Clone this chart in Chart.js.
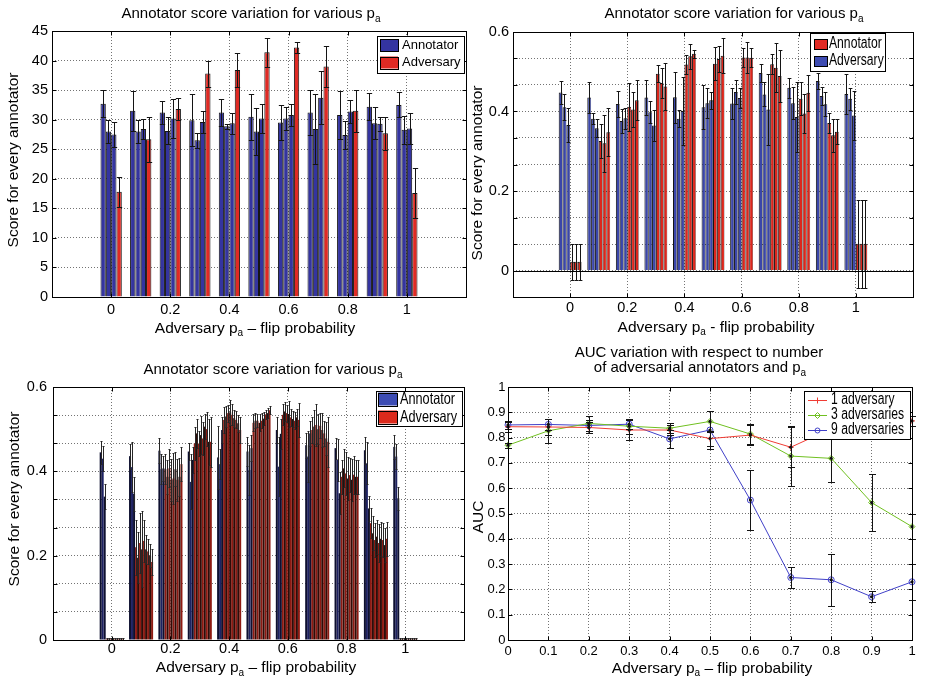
<!DOCTYPE html>
<html>
<head>
<meta charset="utf-8">
<script src="https://cdn.jsdelivr.net/npm/chart.js@4.4.1/dist/chart.umd.min.js"></script>
<style>
  body { margin: 0; background: #fff; width: 927px; height: 683px; position: relative; overflow: hidden; }
  canvas { position: absolute; }
</style>
</head>
<body>
<canvas id="c1" width="470" height="340" style="left:0;top:0"></canvas>
<canvas id="c2" width="464" height="340" style="left:463px;top:0"></canvas>
<canvas id="c3" width="470" height="343" style="left:0;top:340px"></canvas>
<canvas id="c4" width="464" height="343" style="left:463px;top:340px"></canvas>
<script>
// adversary flip probability p_a, one group of bars per value
const groups = [0, 0.1, 0.2, 0.3, 0.4, 0.5, 0.6, 0.7, 0.8, 0.9, 1];

// top left: per group [annotator 1, annotator 2, annotator 3, adversary]
const score1 = [
  [32.7, 28.0, 27.5, 17.8], [31.5, 28.0, 28.4, 26.7], [31.2, 28.1, 30.2, 31.8],
  [29.9, 26.5, 29.6, 37.8], [31.2, 28.9, 29.4, 38.4], [30.5, 28.0, 30.2, 41.4],
  [29.5, 30.2, 30.8, 42.2], [31.2, 28.4, 33.7, 39.0], [30.8, 27.4, 31.4, 31.5],
  [32.2, 29.4, 29.3, 27.7], [32.5, 28.3, 28.5, 17.6]
];
const score1Err = [
  [2.3, 2.0, 2.1, 2.5], [3.4, 2.0, 1.7, 3.8], [2.0, 2.3, 3.3, 1.8],
  [4.4, 1.3, 1.8, 2.2], [2.3, 0.4, 1.8, 2.8], [3.9, 3.9, 2.5, 2.5],
  [2.9, 2.0, 1.9, 1.0], [3.8, 5.9, 4.5, 3.5], [4.0, 2.3, 2.0, 3.6],
  [2.3, 2.7, 1.2, 2.8], [2.1, 2.4, 2.6, 4.2]
];

// top right: per group [3 blue bars, 3 red bars]
const score2 = [
  [0.448, 0.411, 0.366, 0.022, 0.022, 0.022], [0.435, 0.382, 0.358, 0.326, 0.320, 0.348],
  [0.419, 0.376, 0.383, 0.412, 0.405, 0.428], [0.435, 0.398, 0.365, 0.495, 0.472, 0.463],
  [0.436, 0.382, 0.401, 0.518, 0.539, 0.545], [0.411, 0.421, 0.428, 0.520, 0.532, 0.540],
  [0.420, 0.449, 0.434, 0.536, 0.536, 0.535], [0.497, 0.443, 0.405, 0.519, 0.510, 0.489],
  [0.460, 0.421, 0.386, 0.432, 0.395, 0.447], [0.477, 0.439, 0.418, 0.371, 0.340, 0.349],
  [0.444, 0.432, 0.390, 0.067, 0.067, 0.067]
];
const score2Err = [
  [0.028, 0.033, 0.043, 0.045, 0.045, 0.045], [0.040, 0.013, 0.022, 0.043, 0.072, 0.060],
  [0.033, 0.030, 0.027, 0.060, 0.045, 0.050], [0.045, 0.028, 0.040, 0.022, 0.037, 0.058],
  [0.064, 0.021, 0.086, 0.024, 0.032, 0.010], [0.055, 0.038, 0.022, 0.042, 0.032, 0.044],
  [0.040, 0.030, 0.025, 0.024, 0.038, 0.024], [0.022, 0.030, 0.090, 0.025, 0.062, 0.065],
  [0.025, 0.040, 0.087, 0.042, 0.050, 0.045], [0.020, 0.022, 0.030, 0.025, 0.041, 0.032],
  [0.050, 0.028, 0.062, 0.110, 0.110, 0.110]
];

// bottom left: per group [3 annotators, 9 adversaries]
const score3 = [
  [0.445, 0.430, 0.340, 0.003, 0.003, 0.003, 0.003, 0.003, 0.003, 0.003, 0.003, 0.003],
  [0.436, 0.410, 0.347, 0.220, 0.195, 0.230, 0.215, 0.235, 0.215, 0.210, 0.200, 0.185],
  [0.449, 0.405, 0.407, 0.405, 0.387, 0.407, 0.380, 0.383, 0.405, 0.380, 0.387, 0.417],
  [0.447, 0.375, 0.427, 0.466, 0.490, 0.466, 0.486, 0.478, 0.506, 0.500, 0.470, 0.470],
  [0.433, 0.417, 0.498, 0.522, 0.530, 0.538, 0.540, 0.534, 0.526, 0.522, 0.514, 0.498],
  [0.447, 0.403, 0.455, 0.515, 0.520, 0.520, 0.515, 0.520, 0.525, 0.535, 0.538, 0.545],
  [0.498, 0.411, 0.489, 0.534, 0.542, 0.538, 0.536, 0.528, 0.524, 0.520, 0.528, 0.522],
  [0.462, 0.435, 0.490, 0.498, 0.506, 0.510, 0.500, 0.508, 0.498, 0.490, 0.478, 0.470],
  [0.455, 0.427, 0.348, 0.387, 0.407, 0.395, 0.383, 0.391, 0.380, 0.392, 0.387, 0.387],
  [0.450, 0.419, 0.312, 0.277, 0.253, 0.237, 0.245, 0.230, 0.240, 0.237, 0.225, 0.240],
  [0.458, 0.435, 0.336, 0.003, 0.003, 0.003, 0.003, 0.003, 0.003, 0.003, 0.003, 0.003]
];
const score3Err = [
  [0.028, 0.030, 0.030, 0.002, 0.002, 0.002, 0.002, 0.002, 0.002, 0.002, 0.002, 0.002],
  [0.030, 0.060, 0.040, 0.065, 0.060, 0.070, 0.090, 0.050, 0.035, 0.030, 0.028, 0.030],
  [0.030, 0.035, 0.030, 0.035, 0.040, 0.045, 0.050, 0.060, 0.040, 0.050, 0.045, 0.040],
  [0.020, 0.065, 0.030, 0.040, 0.035, 0.030, 0.045, 0.040, 0.030, 0.040, 0.055, 0.060],
  [0.075, 0.035, 0.030, 0.030, 0.025, 0.020, 0.030, 0.025, 0.020, 0.020, 0.020, 0.030],
  [0.035, 0.060, 0.030, 0.020, 0.018, 0.015, 0.020, 0.018, 0.015, 0.010, 0.012, 0.010],
  [0.030, 0.070, 0.035, 0.025, 0.022, 0.020, 0.030, 0.020, 0.018, 0.020, 0.020, 0.040],
  [0.030, 0.060, 0.030, 0.030, 0.040, 0.050, 0.035, 0.030, 0.040, 0.030, 0.040, 0.060],
  [0.025, 0.050, 0.050, 0.040, 0.045, 0.050, 0.050, 0.040, 0.050, 0.045, 0.040, 0.040],
  [0.032, 0.050, 0.030, 0.035, 0.040, 0.040, 0.040, 0.045, 0.040, 0.040, 0.040, 0.040],
  [0.028, 0.030, 0.028, 0.002, 0.002, 0.002, 0.002, 0.002, 0.002, 0.002, 0.002, 0.002]
];

// bottom right: AUC against p_a
const auc1 = [0.843, 0.842, 0.840, 0.830, 0.830, 0.796, 0.810, 0.762, 0.835, 0.860, 0.866];
const auc1Err = [0.020, 0.030, 0.020, 0.040, 0.020, 0.030, 0.040, 0.080, 0.030, 0.030, 0.020];
const auc3 = [0.770, 0.827, 0.856, 0.845, 0.837, 0.864, 0.814, 0.727, 0.718, 0.543, 0.448];
const auc3Err = [0.010, 0.047, 0.030, 0.030, 0.020, 0.040, 0.040, 0.120, 0.095, 0.113, 0.050];
const auc9 = [0.850, 0.852, 0.848, 0.853, 0.795, 0.830, 0.553, 0.247, 0.238, 0.171, 0.230];
const auc9Err = [0.015, 0.020, 0.020, 0.020, 0.035, 0.075, 0.118, 0.040, 0.102, 0.022, 0.070];

const FONT = "'Liberation Sans', Arial, Helvetica, sans-serif";
const gridColor = 'rgba(0,0,0,0.55)';
const blue = '#3434a0', red = '#e02a24';

const TITLE = [['Annotator score variation for various p', 0], ['a', 1]];
const XLAB = [['Adversary p', 0], ['a', 1], [' \u2013 flip probability', 0]];
const XLAB2 = [['Adversary p', 0], ['a', 1], [' - flip probability', 0]];
const YLAB = [['Score for every annotator', 0]];

// decorations per canvas: text, legend box (positions in canvas pixels)
const deco = {
  c1: {
    texts: [{ segs: TITLE, x: 251, y: 14, size: 15 }, { segs: XLAB, x: 255, y: 328.5 }, { segs: YLAB, x: 14, y: 160, rot: true }],
    legend: { x: 377, y: 36, w: 87, h: 37, px: 380, pw: 18, ph: 12, tx: 402, size: 13, sx: 1,
      rows: [{ text: 'Annotator', y: 45, color: blue }, { text: 'Adversary', y: 62.5, color: red }] }
  },
  c2: {
    baseline: true,
    texts: [{ segs: TITLE, x: 271, y: 14, size: 15 }, { segs: XLAB2, x: 253, y: 327.5 }, { segs: YLAB, x: 15, y: 173, rot: true }],
    legend: { x: 347, y: 33, w: 75, h: 38, px: 351, pw: 13, ph: 10, tx: 366, size: 16, sx: 0.76,
      rows: [{ text: 'Annotator', y: 44, color: red }, { text: 'Adversary', y: 61, color: '#3e4cb2' }] }
  },
  c3: {
    texts: [{ segs: TITLE, x: 273, y: 30, size: 15 }, { segs: XLAB, x: 256, y: 328 }, { segs: YLAB, x: 15, y: 159, rot: true }],
    legend: { x: 376, y: 51, w: 86, h: 35, px: 378, pw: 19, ph: 13, tx: 400, size: 16.5, sx: 0.77,
      rows: [{ text: 'Annotator', y: 59, color: '#3c4cb4' }, { text: 'Adversary', y: 77, color: '#dc2a1c' }] }
  },
  c4: {
    texts: [{ segs: [['AUC variation with respect to number', 0]], x: 236, y: 12.8, size: 15 },
      { segs: [['of adversarial annotators and p', 0], ['a', 1]], x: 237, y: 28.2, size: 15 },
      { segs: XLAB, x: 249, y: 328.5 }, { segs: [['AUC', 0]], x: 16, y: 177, rot: true }],
    legend: { x: 341, y: 51, w: 106, h: 48, lx1: 345, lx2: 364, tx: 368, size: 16, sx: 0.76,
      rows: [{ text: '1 adversary', y: 60, color: '#f03c34', marker: 'cross' },
        { text: '3 adversaries', y: 75, color: '#70c020', marker: 'diamond' },
        { text: '9 adversaries', y: 90, color: '#4040c8', marker: 'circle' }] }
  }
};

function fmt(v) { return String(Math.round(v * 10) / 10); }
function xLabel(v) { return v > -0.01 && v < 1.01 ? fmt(v) : ''; }
function yFifth(v) { const r = v * 5; return v > -1e-9 && Math.abs(r - Math.round(r)) < 1e-6 ? fmt(v) : ''; }

function marker(ctx, kind, x, y, color) {
  ctx.save();
  ctx.strokeStyle = color; ctx.lineWidth = 1;
  ctx.beginPath();
  if (kind === 'cross') { ctx.moveTo(x - 3, y); ctx.lineTo(x + 3, y); ctx.moveTo(x, y - 3); ctx.lineTo(x, y + 3); }
  else if (kind === 'diamond') { ctx.moveTo(x, y - 3); ctx.lineTo(x + 3, y); ctx.lineTo(x, y + 3); ctx.lineTo(x - 3, y); ctx.closePath(); }
  else { ctx.arc(x, y, 2.5, 0, Math.PI * 2); }
  ctx.stroke();
  ctx.restore();
}

function drawText(ctx, t) {
  const size = t.size || 15.5, sub = 10;
  ctx.save();
  ctx.fillStyle = '#000';
  ctx.textBaseline = 'middle';
  ctx.textAlign = 'left';
  let w = 0;
  t.segs.forEach(s => { ctx.font = (s[1] ? sub : size) + 'px ' + FONT; w += ctx.measureText(s[0]).width; });
  ctx.translate(t.x, t.y);
  if (t.rot) ctx.rotate(-Math.PI / 2);
  let x = -w / 2;
  t.segs.forEach(s => {
    ctx.font = (s[1] ? sub : size) + 'px ' + FONT;
    ctx.fillText(s[0], x, s[1] ? 5 : 0);
    x += ctx.measureText(s[0]).width;
  });
  ctx.restore();
}

const decoPlugin = {
  id: 'deco',
  afterDatasetsDraw(chart) {
    const ctx = chart.ctx;
    chart.data.datasets.forEach((ds, i) => {
      if (!ds.errors) return;
      const meta = chart.getDatasetMeta(i);
      const ys = chart.scales[meta.yAxisID];
      ctx.save();
      ctx.strokeStyle = ds.errColor || '#141414';
      ctx.lineWidth = 1;
      meta.data.forEach((el, k) => {
        const v = ds.data[k].y, e = ds.errors[k];
        const x = Math.round(el.x) + 0.5;
        const half = ds.capHalf != null ? ds.capHalf : el.width / 2;
        const t = Math.round(ys.getPixelForValue(v + e)) + 0.5;
        const b = Math.round(ys.getPixelForValue(v - e)) + 0.5;
        ctx.beginPath();
        ctx.moveTo(x, t); ctx.lineTo(x, b);
        ctx.moveTo(x - half, t); ctx.lineTo(x + half, t);
        ctx.moveTo(x - half, b); ctx.lineTo(x + half, b);
        ctx.stroke();
        if (ds.dot) { ctx.fillStyle = '#111'; ctx.beginPath(); ctx.arc(el.x, el.y, 1.6, 0, Math.PI * 2); ctx.fill(); }
      });
      ctx.restore();
    });
  },
  afterDraw(chart) {
    const d = deco[chart.canvas.id];
    const ctx = chart.ctx, a = chart.chartArea;
    const L = Math.round(a.left) + 0.5, R = Math.round(a.right) + 0.5;
    const T = Math.round(a.top) + 0.5, B = Math.round(a.bottom) + 0.5;
    ctx.save();
    ctx.strokeStyle = '#000';
    ctx.lineWidth = 1;
    if (d.baseline) {
      const y0 = Math.round(chart.scales.y.getPixelForValue(0)) + 0.5;
      ctx.beginPath(); ctx.moveTo(L, y0); ctx.lineTo(R, y0); ctx.stroke();
    }
    ctx.strokeRect(L, T, R - L, B - T);
    // inward tick marks on all four sides
    ctx.beginPath();
    chart.scales.x.ticks.forEach((tk, i) => {
      const p = Math.round(chart.scales.x.getPixelForTick(i)) + 0.5;
      if (p <= L + 1 || p >= R - 1) return;
      ctx.moveTo(p, B); ctx.lineTo(p, B - 4);
      ctx.moveTo(p, T); ctx.lineTo(p, T + 4);
    });
    chart.scales.y.ticks.forEach((tk, i) => {
      const p = Math.round(chart.scales.y.getPixelForTick(i)) + 0.5;
      if (p <= T + 1 || p >= B - 1) return;
      ctx.moveTo(L, p); ctx.lineTo(L + 4, p);
      ctx.moveTo(R, p); ctx.lineTo(R - 4, p);
    });
    ctx.stroke();
    // legend box
    const g = d.legend;
    ctx.fillStyle = '#fff';
    ctx.fillRect(g.x, g.y, g.w, g.h);
    ctx.strokeRect(g.x + 0.5, g.y + 0.5, g.w, g.h);
    ctx.font = g.size + 'px ' + FONT;
    ctx.textBaseline = 'middle';
    g.rows.forEach(r => {
      if (r.marker) {
        ctx.strokeStyle = r.color;
        ctx.beginPath(); ctx.moveTo(g.lx1, Math.round(r.y) + 0.5); ctx.lineTo(g.lx2, Math.round(r.y) + 0.5); ctx.stroke();
        marker(ctx, r.marker, (g.lx1 + g.lx2) / 2, Math.round(r.y) + 0.5, r.color);
      } else {
        ctx.fillStyle = r.color;
        ctx.fillRect(g.px, r.y - g.ph / 2, g.pw, g.ph);
        ctx.strokeStyle = '#000';
        ctx.strokeRect(g.px + 0.5, Math.round(r.y - g.ph / 2) + 0.5, g.pw, g.ph);
      }
      ctx.save();
      ctx.translate(g.tx, r.y);
      ctx.scale(g.sx, 1);
      ctx.fillStyle = '#000';
      ctx.fillText(r.text, 0, 0);
      ctx.restore();
    });
    ctx.restore();
    d.texts.forEach(t => drawText(ctx, t));
  }
};
Chart.register(decoPlugin);

function groupX(tickSize, pad) {
  return {
    type: 'linear', min: -0.2, max: 1.2, offset: false,
    afterFit: s => { s.height = 43; },
    ticks: { stepSize: 0.2, callback: xLabel, autoSkip: false, maxRotation: 0, padding: pad, color: '#000', font: { family: FONT, size: tickSize } },
    grid: { offset: false, drawTicks: false,
      color: c => { const v = c.tick ? c.tick.value : 0; return v > -0.01 && v < 1.01 ? gridColor : 'rgba(0,0,0,0)'; } },
    border: { display: false, dash: [1, 2] }
  };
}
function valueY(min, max, step, cb, width, tickSize, pad) {
  return {
    type: 'linear', min: min, max: max,
    afterFit: s => { s.width = width; },
    ticks: { stepSize: step, callback: cb, autoSkip: false, padding: pad, color: '#000', font: { family: FONT, size: tickSize } },
    grid: { drawTicks: false, color: gridColor },
    border: { display: false, dash: [1, 2] }
  };
}
function baseOpts(padding, catPct, scales) {
  return {
    responsive: false, animation: false, devicePixelRatio: 1,
    layout: { padding: padding },
    plugins: { legend: { display: false }, title: { display: false }, tooltip: { enabled: false } },
    datasets: { bar: { categoryPercentage: catPct, barPercentage: 1 } },
    scales: scales
  };
}
function barSets(rows, errs, colors, border, edge, errColor) {
  return rows[0].map((_, i) => ({
    label: 'bar ' + (i + 1),
    data: groups.map((g, k) => ({ x: g, y: rows[k][i] })),
    errors: errs.map(r => r[i]),
    errColor: errColor,
    backgroundColor: colors[i],
    borderColor: edge,
    borderWidth: border
  }));
}

new Chart(document.getElementById('c1'), {
  type: 'bar',
  data: { datasets: barSets(score1, score1Err, [blue, blue, blue, red], 1, '#151515', '#141414') },
  options: baseOpts({ top: 31, right: 4 }, 0.72, {
    x: groupX(14.5, 4),
    y: valueY(0, 45, 5, v => String(v), 52, 14.5, 4)
  })
});

const b2 = '#3a46aa', r2 = '#dc261c';
new Chart(document.getElementById('c2'), {
  type: 'bar',
  data: { datasets: barSets(score2, score2Err, [b2, b2, b2, r2, r2, r2], { top: 1, left: 1, right: 0.5 }, '#151515', '#141414') },
  options: baseOpts({ top: 32, right: 14 }, 0.8, {
    x: groupX(14.5, 2),
    y: valueY(-1 / 15, 0.6, 1 / 15, yFifth, 50, 14.5, 4)
  })
});

// thin bars: alternate a light and a dark shade to mimic the dense edge striping
const b3 = '#1e2262', b3d = '#0e1030', r3 = '#8e1a12', r3d = '#2e0c08';
new Chart(document.getElementById('c3'), {
  type: 'bar',
  data: { datasets: barSets(score3, score3Err, [b3d, b3, b3d, r3, r3d, r3, r3d, r3, r3d, r3, r3d, r3], 0, '#000', '#262626') },
  options: baseOpts({ top: 47, right: 6 }, 0.82, {
    x: groupX(14.5, 0),
    y: valueY(0, 0.6, 0.2 / 3, yFifth, 53, 14.5, 6)
  })
});

function aucSet(label, vals, errs, color, style) {
  return {
    label: label,
    data: groups.map((g, k) => ({ x: g, y: vals[k] })),
    errors: errs, capHalf: 3.5, dot: true,
    borderColor: color, backgroundColor: 'rgba(0,0,0,0)', borderWidth: 1,
    pointStyle: style, pointRadius: 3, pointBorderWidth: 1, pointBorderColor: color,
    tension: 0, clip: false
  };
}
new Chart(document.getElementById('c4'), {
  type: 'line',
  data: { datasets: [
    aucSet('1 adversary', auc1, auc1Err, '#f03c34', 'cross'),
    aucSet('3 adversaries', auc3, auc3Err, '#70c020', 'rectRot'),
    aucSet('9 adversaries', auc9, auc9Err, '#4040c8', 'circle')
  ] },
  options: baseOpts({ top: 47, right: 15 }, 0.8, {
    x: { type: 'linear', min: 0, max: 1, offset: false,
      afterFit: s => { s.height = 43; },
      ticks: { stepSize: 0.1, callback: fmt, autoSkip: false, maxRotation: 0, padding: 4, color: '#000', font: { family: FONT, size: 13 } },
      grid: { drawTicks: false, color: gridColor }, border: { display: false, dash: [1, 2] } },
    y: valueY(0, 1, 0.1, fmt, 45, 13, 2.5)
  })
});
</script>
</body>
</html>
